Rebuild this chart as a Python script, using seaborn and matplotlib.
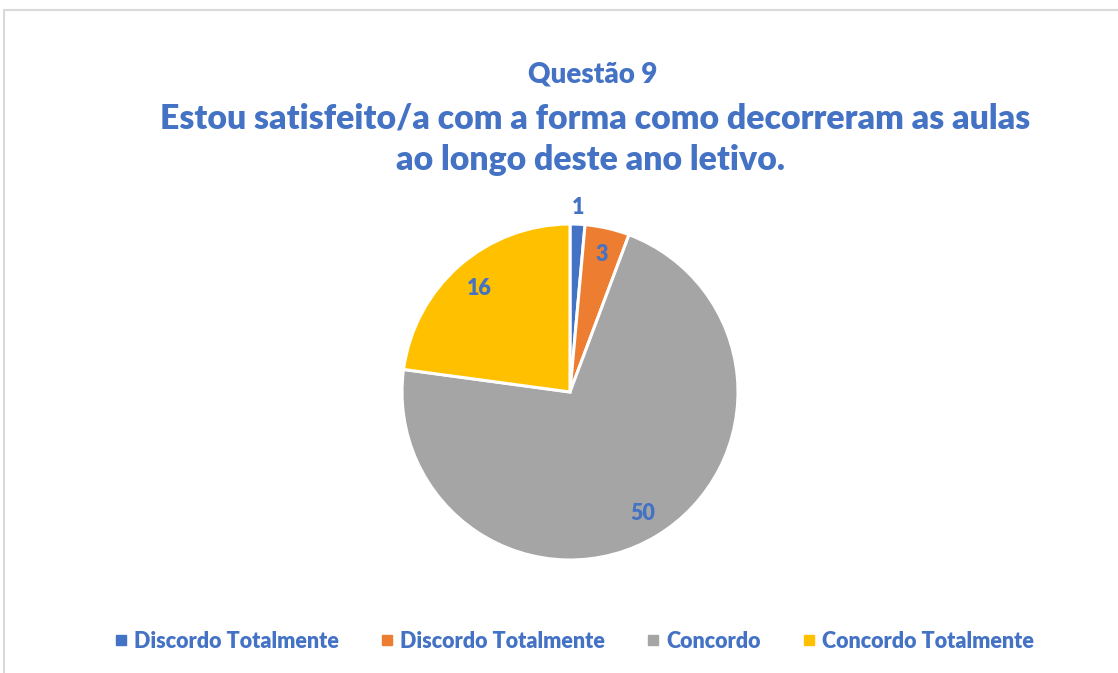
import matplotlib
matplotlib.use("Agg")
import matplotlib.pyplot as plt
from matplotlib.lines import Line2D
from matplotlib.patches import Rectangle
import numpy as np
import seaborn as sns

categories = ["Discordo Totalmente", "Discordo Totalmente", "Concordo", "Concordo Totalmente"]
values = [1, 3, 50, 16]
colors = ["#4472C4", "#ED7D31", "#A5A5A5", "#FFC000"]
label_radius = [1.10, 0.84, 0.84, 0.82]
title_lines = ["Questão 9",
               "Estou satisfeito/a com a forma como decorreram as aulas",
               "ao longo deste ano letivo."]

sns.set_theme(style="white")
plt.rcParams["font.family"] = ["Lato", "DejaVu Sans"]
text_blue = "#4472C4"
weight = "heavy"

fig = plt.figure(figsize=(11.18, 6.73), dpi=100)
fig.patch.set_facecolor("white")

# light chart-area frame
fig.patches.append(Rectangle((4 / 1118, -0.1), 1.2, (673 - 10.5) / 673 + 0.1,
                             transform=fig.transFigure, fill=False,
                             edgecolor="#D9D9D9", linewidth=1.5))

ax = fig.add_axes([(570 - 168) / 1118, (673 - 392 - 168) / 673, 336 / 1118, 336 / 673])
palette = sns.color_palette(colors)
wedges, _ = ax.pie(values, colors=palette, startangle=90, counterclock=False,
                   wedgeprops=dict(edgecolor="white", linewidth=2.2))
ax.set_xlim(-1, 1)
ax.set_ylim(-1, 1)
ax.set_aspect("equal")
ax.axis("off")

for w, v, r in zip(wedges, values, label_radius):
    ang = np.deg2rad((w.theta1 + w.theta2) / 2)
    ax.text(r * np.cos(ang), r * np.sin(ang), str(v), ha="center", va="center",
            fontsize=15.5, fontweight=weight, color=text_blue, clip_on=False)

fig.text(593 / 1118, 1 - 75 / 673, title_lines[0], ha="center", va="center",
         fontsize=20, fontweight=weight, color=text_blue)
fig.text(595 / 1118, 1 - 118 / 673, title_lines[1], ha="center", va="center",
         fontsize=24.3, fontweight=weight, color=text_blue)
fig.text(590 / 1118, 1 - 160 / 673, title_lines[2], ha="center", va="center",
         fontsize=24.3, fontweight=weight, color=text_blue)

handles = [Line2D([0], [0], marker="s", linestyle="none", markersize=7,
                  markerfacecolor=c, markeredgecolor=c) for c in colors]
leg = fig.legend(handles, categories, loc="center", bbox_to_anchor=(574 / 1118, 1 - 641 / 673),
                 ncol=4, frameon=False, handlelength=0.6, handletextpad=0.3,
                 columnspacing=1.95, prop=dict(size=15.5, weight=weight))
for t in leg.get_texts():
    t.set_color(text_blue)

fig.savefig("out.png", dpi=100, facecolor="white")
